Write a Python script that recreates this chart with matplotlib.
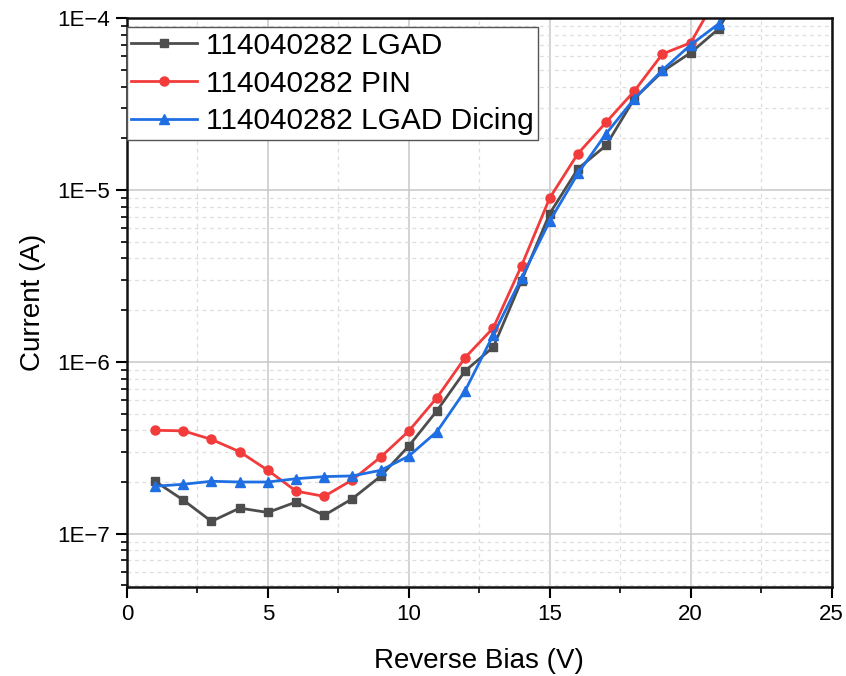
import matplotlib
matplotlib.use('Agg')
import matplotlib.pyplot as plt
from matplotlib.ticker import FuncFormatter, LogLocator, MultipleLocator
import numpy as np

plt.rcParams['font.family'] = ['Liberation Sans', 'DejaVu Sans']

bias = [1, 2, 3, 4, 5, 6, 7, 8, 9, 10, 11, 12, 13, 14, 15, 16, 17, 18, 19, 20, 21, 22]

lgad = [2.02e-7, 1.57e-7, 1.18e-7, 1.41e-7, 1.33e-7, 1.53e-7, 1.28e-7, 1.60e-7,
        2.16e-7, 3.24e-7, 5.2e-7, 8.87e-7, 1.22e-6, 2.97e-6, 7.3e-6, 1.33e-5,
        1.82e-5, 3.4e-5, 4.9e-5, 6.3e-5, 8.7e-5, 1.7e-4]
pin = [4.0e-7, 3.97e-7, 3.54e-7, 3.0e-7, 2.34e-7, 1.77e-7, 1.65e-7, 2.06e-7,
       2.79e-7, 3.96e-7, 6.2e-7, 1.06e-6, 1.58e-6, 3.63e-6, 9.0e-6, 1.63e-5,
       2.48e-5, 3.77e-5, 6.2e-5, 7.2e-5, 1.4e-4, 1.8e-4]
dicing = [1.89e-7, 1.94e-7, 2.02e-7, 2.0e-7, 2.0e-7, 2.09e-7, 2.15e-7, 2.17e-7,
          2.34e-7, 2.83e-7, 3.93e-7, 6.8e-7, 1.44e-6, 3.08e-6, 6.6e-6, 1.25e-5,
          2.13e-5, 3.4e-5, 5.0e-5, 7.0e-5, 9.3e-5, 1.5e-4]

labels = ['114040282 LGAD', '114040282 PIN', '114040282 LGAD Dicing']

fig = plt.figure(figsize=(8.46, 6.76), dpi=100)
ax = fig.add_axes([0.150, 0.1317, 0.833, 0.8413])

ax.plot(bias, lgad, color='#4d4d4d', marker='s', markersize=6, lw=2, label=labels[0])
ax.plot(bias, pin, color='#f23b3b', marker='o', markersize=6.5, lw=2, label=labels[1])
ax.plot(bias, dicing, color='#1f6fe3', marker='^', markersize=7, lw=2, label=labels[2])

ax.set_yscale('log')
ax.set_xlim(0, 25)
ax.set_ylim(4.9e-8, 1e-4)

ax.xaxis.set_major_locator(MultipleLocator(5))
ax.xaxis.set_minor_locator(MultipleLocator(2.5))
ax.yaxis.set_major_locator(LogLocator(base=10, numticks=10))
ax.yaxis.set_minor_locator(LogLocator(base=10, subs=np.arange(2, 10), numticks=20))


def fmt(v, pos):
    e = int(round(np.log10(v)))
    return '1E\u2212%d' % (-e)


ax.yaxis.set_major_formatter(FuncFormatter(fmt))
ax.yaxis.set_minor_formatter(FuncFormatter(lambda v, p: ''))

ax.grid(which='major', color='#c8c8c8', lw=1.1, ls='-')
ax.grid(which='minor', color='#dedede', lw=0.9, ls=(0, (3, 3)))
ax.set_axisbelow(True)

for s in ax.spines.values():
    s.set_linewidth(1.8)
    s.set_color('#111111')

ax.tick_params(axis='both', which='major', labelsize=16, width=1.5, length=8, direction='out', pad=4)
ax.tick_params(axis='both', which='minor', width=1.2, length=4.5, direction='out')

ax.set_xlabel('Reverse Bias (V)', fontsize=20, labelpad=17)
ax.set_ylabel('Current (A)', fontsize=20, labelpad=8)

leg = ax.legend(loc='upper left', bbox_to_anchor=(0.0, 1 - 9 / 569), fontsize=21.5,
                frameon=True, fancybox=False, edgecolor='#555555', framealpha=1,
                borderpad=0.15, labelspacing=0.33, handlelength=2.2,
                handletextpad=0.3, borderaxespad=0.0)
leg.get_frame().set_linewidth(1.0)

fig.savefig('out.png', dpi=100)
